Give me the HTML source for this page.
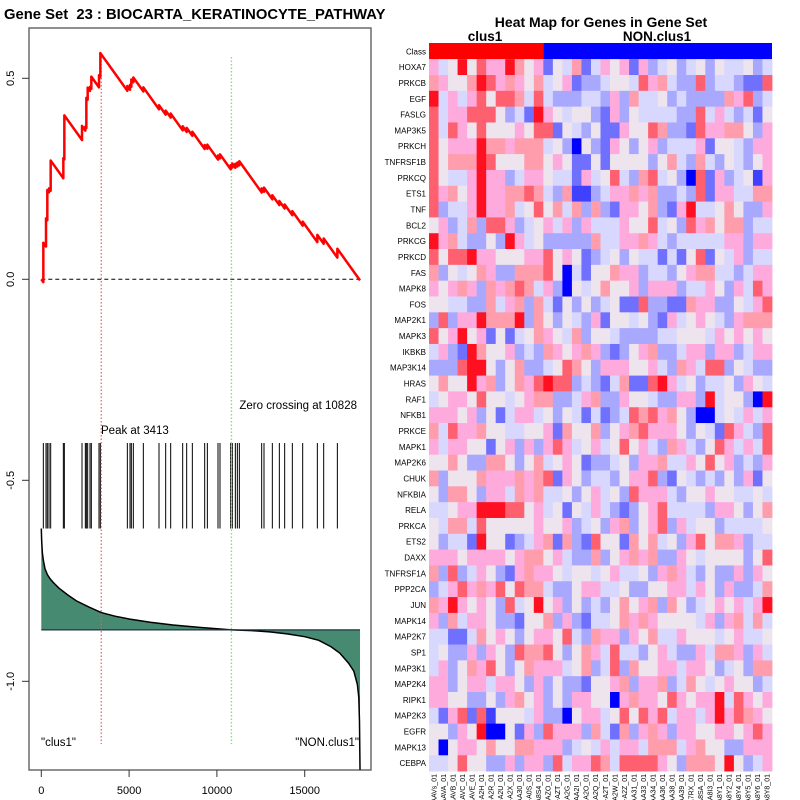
<!DOCTYPE html>
<html><head><meta charset="utf-8">
<style>
html,body{margin:0;padding:0;background:#fff;}
svg{display:block;font-family:"Liberation Sans",Arial,sans-serif;}
</style></head>
<body>
<svg id="chart" width="800" height="800" viewBox="0 0 800 800" xmlns="http://www.w3.org/2000/svg">
<text x="4" y="19" font-size="14.8" font-weight="bold" xml:space="preserve">Gene Set  23 : BIOCARTA_KERATINOCYTE_PATHWAY</text>
<text x="601" y="27" font-size="14" font-weight="bold" text-anchor="middle">Heat Map for Genes in Gene Set</text>
<text x="485" y="41" font-size="13.5" font-weight="bold" text-anchor="middle">clus1</text>
<text x="657" y="41" font-size="13.5" font-weight="bold" text-anchor="middle">NON.clus1</text>
<g id="left"></g>
<g id="heat"></g>
</svg>
<script>
// ---- GSEA data ----
const totalGenes = 18150;
const hitRanks = [116,268,343,438,534,1255,1312,2318,2508,2565,2641,2774,2849,3286,3362,4900,5052,5127,5241,5811,6703,7083,7368,8051,8279,8601,9304,9456,10063,10177,10784,10879,11050,11164,11278,12550,12682,13157,13556,13859,14296,14885,15720,16081,16860];
const hitWeights = [0.098,0.07,0.075,0.01,0.075,0.05,0.11,0.035,0.01,0.075,0.03,0.01,0.03,0.03,0.06,0.012,0.012,0.018,0.012,0.01,0.01,0.01,0.01,0.01,0.01,0.01,0.01,0.01,0.01,0.01,0.01,0.01,0.01,0.01,0.01,0.01,0.01,0.01,0.01,0.01,0.01,0.01,0.018,0.013,0.022];
const peakRank = 3413;
const zeroCross = 10828;
const metricRanks = [0,20,60,120,210,350,500,700,1000,1500,2000,2700,3413,4200,5000,6200,7500,9000,10828,12000,13000,14000,15000,15800,16500,17000,17500,17800,18000,18080,18120,18150];
const metricVals = [-0.62,-0.65,-0.68,-0.70,-0.72,-0.735,-0.745,-0.755,-0.768,-0.785,-0.80,-0.815,-0.829,-0.838,-0.845,-0.853,-0.86,-0.866,-0.872,-0.874,-0.877,-0.882,-0.889,-0.898,-0.914,-0.93,-0.955,-0.975,-1.008,-1.04,-1.10,-1.22];
const metricBase = -0.872;
const xTicks = [0,5000,10000,15000];
const yTicks = [0.5,0.0,-0.5,-1.0];
const yTickLabels = ["0.5","0.0","-0.5","-1.0"];

// ---- Heatmap data ----
const genes = ["HOXA7","PRKCB","EGF","FASLG","MAP3K5","PRKCH","TNFRSF1B","PRKCQ","ETS1","TNF","BCL2","PRKCG","PRKCD","FAS","MAPK8","FOS","MAP2K1","MAPK3","IKBKB","MAP3K14","HRAS","RAF1","NFKB1","PRKCE","MAPK1","MAP2K6","CHUK","NFKBIA","RELA","PRKCA","ETS2","DAXX","TNFRSF1A","PPP2CA","JUN","MAPK14","MAP2K7","SP1","MAP3K1","MAP2K4","RIPK1","MAP2K3","EGFR","MAPK13","CEBPA"];
const samples = ["AAVs_01","AAVA_01","AAVB_01","AAVC_01","AAVE_01","A2H_01","A2R_01","A2U_01","A2X_01","AA30_01","A0S_01","A8S4_01","AZO_01","AZT_01","A2G_01","AA2I_01","A2O_01","A2Q_01","A2T_01","A2W_01","A2Z_01","AA31_01","AA33_01","AA34_01","AA36_01","AA38_01","AA39_01","A7RX_01","A8SA_01","A8I3_01","A8Y1_01","A8Y2_01","A8Y4_01","A8Y5_01","A8Y6_01","A8Y8_01"];
const nClus1 = 12;
const heatLevels = [
"645958669756254724656263453453544534",
"765579867657456233455486743383443228",
"946468588748433344363744534333376834",
"846688853429654553263544443384643425",
"848658555658825435226558733286677536",
"856669776777453053265356344462554366",
"857779855577565225255553574374354356",
"854469663466544264584378453082634516",
"867569667787437113466767334382664477",
"834469667458574737326657326944575336",
"563473886345646364446558453867577344",
"967433539645333337446676434444466366",
"858896655566856523453544242582546344",
"735457633777850425576634435677443466",
"656763767874630545755636663446536486",
"554433746737425353452283322766335468",
"383669777937535436255453264565436777",
"856956252457654735543333445554656565",
"463297556343765676323567334663663466",
"333899535733458753666556437648835433",
"575596735768988343247228964534453654",
"456658554567733467336554336639455309",
"666563524664535424234878675300454646",
"748667554455627557356786665354286438",
"646655256363686456458564376435864648",
"557533775357456523345366744658563436",
"735557666767826534435668325434353625",
"537753664767445356453866643556554454",
"445669998856452546432356844443665357",
"547748555556556345367356836455344445",
"534429552346727328552757453685776344",
"666566665677564337356767336545555358",
"738346532676654554564453676435336365",
"346867685877433566445335566465363347",
"769656538459563534357567375345656469",
"637466533255736324457676555546367474",
"442247565356658437663657446555456445",
"453363653877853576484435643364776364",
"463576853576664573483755664665345377",
"663566466536353325567366734754565534",
"665533536756353665506766586566948656",
"426828155546330566458586846646968765",
"553659005263866637427367636655665686",
"505665755776663454646647774675533666",
"445855336366384668748888653777595346"
];
const heatColors = ["#0000ff","#4040ff","#7070ff","#a8a8ff","#d8d8ff","#eee4ee","#ffaadd","#ff9dad","#ff6070","#ff1020"];

const NS = "http://www.w3.org/2000/svg";
function mk(parent, tag, attrs){const e=document.createElementNS(NS,tag);for(const k in attrs)e.setAttribute(k,attrs[k]);parent.appendChild(e);return e;}

// ---- left panel ----
const L = document.getElementById('left');
const xS = r => 41.3 + r*0.01756;
const yS = v => 279.3 - v*402;

let frame = mk(L,'rect',{x:29,y:28,width:342,height:742,fill:'none',stroke:'#555','stroke-width':1.3});



yTicks.forEach((v,i)=>{
  const y=yS(v);
  const t=mk(L,'line',{x1:22,x2:29,y1:y,y2:y,stroke:'#333'});
  
  
  const lb=mk(L,'text',{x:0,y:0,'font-size':11,'text-anchor':'middle',transform:`translate(14,${y}) rotate(-90)`});
  lb.textContent=yTickLabels[i];
  
  
});
xTicks.forEach(v=>{
  const x=xS(v);
  const t=mk(L,'line',{x1:x,x2:x,y1:770,y2:777,stroke:'#333'});
  
  
  const lb=mk(L,'text',{x:x,y:794,'font-size':11,'text-anchor':'middle'});
  lb.textContent=String(v);
  
  
});

let zl=mk(L,'line',{x1:xS(0),x2:xS(totalGenes),y1:yS(0),y2:yS(0),stroke:'#000','stroke-dasharray':'4,3'});



let pts=[[xS(metricRanks[0]),yS(metricBase)]];
metricRanks.forEach((r,i)=>pts.push([xS(r),yS(metricVals[i])]));
pts.push([xS(metricRanks[metricRanks.length-1]),yS(metricBase)]);
let fill=mk(L,'polygon',{points:pts.map(p=>p.join(',')).join(' '),fill:'#468a72',stroke:'none'});


let ml=mk(L,'polyline',{points:metricRanks.map((r,i)=>xS(r)+','+yS(metricVals[i])).join(' '),fill:'none',stroke:'#000','stroke-width':1.5});


let bl=mk(L,'line',{x1:xS(0),x2:xS(totalGenes),y1:yS(metricBase),y2:yS(metricBase),stroke:'#234',"stroke-width":1.3});



hitRanks.forEach(r=>{
  const l=mk(L,'line',{x1:xS(r),x2:xS(r),y1:443,y2:528.5,stroke:'#000','stroke-width':1});
  
  
});

const sumW=hitWeights.reduce((a,b)=>a+b,0);
const m=sumW/(totalGenes-hitRanks.length);
let es=0,prev=0,esPts=[[xS(0),yS(0)]];
hitRanks.forEach((r,i)=>{es-= (r-prev)*m; esPts.push([xS(r),yS(es)]); es+=hitWeights[i]; esPts.push([xS(r),yS(es)]); prev=r;});
es-= (totalGenes-prev)*m; esPts.push([xS(totalGenes),yS(es)]);

let pk=mk(L,'line',{x1:xS(peakRank),x2:xS(peakRank),y1:57,y2:744,stroke:'#e06060','stroke-width':1.2,'stroke-dasharray':'1.5,2'});


let zc=mk(L,'line',{x1:xS(zeroCross),x2:xS(zeroCross),y1:57,y2:744,stroke:'#80e080','stroke-width':1.4,'stroke-dasharray':'1.5,2'});



let esl=mk(L,'polyline',{points:esPts.map(p=>p.join(',')).join(' '),fill:'none',stroke:'#ff0000','stroke-width':2.5,'stroke-linejoin':'round'});



function txt(p,x,y,s,anchor,name){const t=mk(p,'text',{x:x,y:y,'font-size':11.5,'text-anchor':anchor||'start'});t.textContent=s;return t;}
txt(L,101,434,'Peak at 3413','start','peak-label');
txt(L,357,409,'Zero crossing at 10828','end','zero-crossing-label');
txt(L,41,746,'"clus1"','start','clus1-label');
txt(L,359,746,'"NON.clus1"','end','non-clus1-label');

// ---- heatmap ----
const H=document.getElementById('heat');
const hx0=429, hx1=772, hy0=59.2, rowH=15.82;
const colW=(hx1-hx0)/samples.length;
let c1=mk(H,'rect',{x:hx0,y:43,width:colW*nClus1,height:16.2,fill:'#ff0000'});


let c2=mk(H,'rect',{x:hx0+colW*nClus1,y:43,width:colW*(samples.length-nClus1),height:16.2,fill:'#0000ff'});


let cl=mk(H,'text',{x:426,y:54.5,'font-size':8,'text-anchor':'end'});cl.textContent='Class';



genes.forEach((g,ri)=>{
  const y=hy0+ri*rowH;
  const row=heatLevels[ri]||'';
  for(let ci=0;ci<samples.length;ci++){
    const lv=parseInt(row.charAt(ci)||'5',10);
    const r=mk(H,'rect',{x:hx0+ci*colW,y:y,width:colW+0.4,height:rowH+0.4,fill:heatColors[isNaN(lv)?5:lv]});
    
    
  }
  const t=mk(H,'text',{x:426,y:y+rowH/2+3,'font-size':8,'text-anchor':'end'});
  t.textContent=g;
  
  
});
samples.forEach((s,ci)=>{
  const x=hx0+ci*colW+colW/2+2.5;
  const t=mk(H,'text',{x:0,y:0,'font-size':7,'text-anchor':'end',transform:`translate(${x},774) rotate(-90)`});
  t.textContent='TCGA-'+s;
  
  
});
</script>
</body></html>
